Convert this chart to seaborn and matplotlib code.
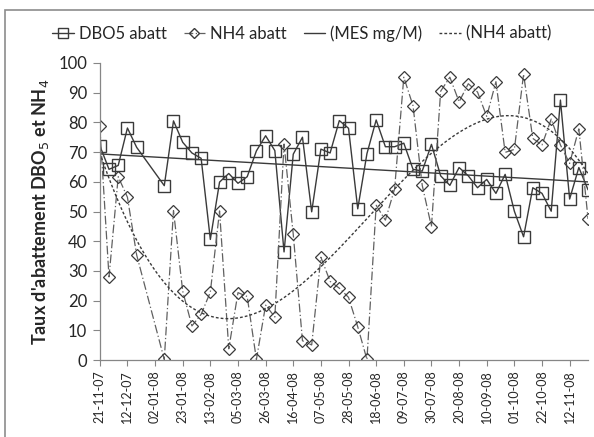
import numpy as np
import pandas as pd
import matplotlib
matplotlib.use('Agg')
import matplotlib.pyplot as plt
import seaborn as sns
from matplotlib.lines import Line2D
from matplotlib.patches import Rectangle

# sampling dates (weekly, gap over the holidays)
dates = ['21-11-07', '28-11-07', '05-12-07', '12-12-07', '19-12-07',
         '09-01-08', '16-01-08', '23-01-08', '30-01-08', '06-02-08',
         '13-02-08', '20-02-08', '27-02-08', '05-03-08', '12-03-08',
         '19-03-08', '26-03-08', '02-04-08', '09-04-08', '16-04-08',
         '23-04-08', '30-04-08', '07-05-08', '14-05-08', '21-05-08',
         '28-05-08', '04-06-08', '11-06-08', '18-06-08', '25-06-08',
         '02-07-08', '09-07-08', '16-07-08', '23-07-08', '30-07-08',
         '06-08-08', '13-08-08', '20-08-08', '27-08-08', '03-09-08',
         '10-09-08', '17-09-08', '24-09-08', '01-10-08', '08-10-08',
         '15-10-08', '22-10-08', '29-10-08', '05-11-08', '12-11-08',
         '19-11-08', '26-11-08']

dbo5 = [72.2, 64.2, 65.5, 78.1, 71.6, 58.7, 80.5, 73.3, 69.7, 67.9,
        40.6, 59.9, 62.8, 59.5, 61.7, 70.4, 75.5, 70.5, 36.4, 69.3,
        75.0, 49.9, 71.0, 69.7, 80.6, 78.0, 50.9, 69.5, 80.8, 71.8,
        71.8, 73.0, 64.2, 63.6, 72.6, 62.0, 58.8, 64.8, 62.0, 58.0,
        60.8, 56.1, 62.5, 50.1, 41.5, 58.0, 56.1, 50.1, 87.5, 54.2,
        64.8, 57.3]

nh4 = [78.8, 28.0, 61.7, 54.8, 35.4, 0.2, 50.3, 23.2, 11.5, 15.4,
       22.9, 50.2, 3.8, 22.7, 21.4, 0.2, 18.5, 14.5, 72.7, 42.3,
       6.5, 5.1, 34.6, 26.5, 24.2, 21.1, 11.2, 0.2, 52.1, 47.1,
       57.6, 95.2, 85.6, 58.8, 44.9, 90.5, 95.2, 86.9, 93.0, 90.2,
       82.0, 93.7, 69.9, 70.9, 96.2, 74.6, 72.4, 81.1, 72.4, 66.2,
       77.8, 47.5]

tick_labels = ['21-11-07', '12-12-07', '02-01-08', '23-01-08', '13-02-08',
               '05-03-08', '26-03-08', '16-04-08', '07-05-08', '28-05-08',
               '18-06-08', '09-07-08', '30-07-08', '20-08-08', '10-09-08',
               '01-10-08', '22-10-08', '12-11-08']

df = pd.DataFrame({'date': pd.to_datetime(dates, format='%d-%m-%y'),
                   'dbo5': dbo5, 'nh4': nh4})

# Excel-like trend lines: linear on DBO5, 3rd order polynomial on NH4
days = (df['date'] - df['date'].iloc[0]).dt.days.to_numpy()
grid = pd.date_range(df['date'].iloc[0], df['date'].iloc[-1], freq='D')
gdays = (grid - grid[0]).days.to_numpy()
trend = pd.DataFrame({
    'date': grid,
    'lin': np.polyval(np.polyfit(days, df['dbo5'], 1), gdays),
    'poly': np.polyval(np.polyfit(days, df['nh4'], 3), gdays),
})

sns.set_theme(style='white')
plt.rcParams['font.family'] = ['Lato', 'DejaVu Sans']

fig, ax = plt.subplots(figsize=(5.94, 4.37), dpi=100)
fig.subplots_adjust(left=0.168, right=0.99, top=0.856, bottom=0.176)

dark = '#3a3a3a'
dashdot = (0, (7, 2, 1, 2))
dotted = (0, (2, 1.5))

sns.lineplot(data=df, x='date', y='dbo5', ax=ax, color=dark, lw=1.0,
             marker='s', markersize=8.5, markerfacecolor='none',
             markeredgecolor=dark, markeredgewidth=1.0)
sns.lineplot(data=df, x='date', y='nh4', ax=ax, color='#606060', lw=0.9,
             linestyle=dashdot,
             marker='D', markersize=6.5, markerfacecolor='none',
             markeredgecolor=dark, markeredgewidth=0.9)
sns.lineplot(data=trend, x='date', y='lin', ax=ax, color=dark, lw=1.0)
sns.lineplot(data=trend, x='date', y='poly', ax=ax, color=dark, lw=1.0,
             linestyle=dotted)

ax.set_ylim(0, 100)
ax.set_yticks(range(0, 101, 10))
ax.set_xlim(df['date'].iloc[0], df['date'].iloc[-1])
ax.set_xticks(pd.to_datetime(tick_labels, format='%d-%m-%y'))
ax.set_xticklabels(tick_labels, rotation=90, fontsize=9)
ax.tick_params(axis='y', labelsize=12, length=5, width=0.8, color='#868686',
               direction='out', left=True, pad=4)
ax.tick_params(axis='x', length=4, width=0.8, color='#868686',
               direction='out', bottom=True, pad=3)
ax.set_xlabel('')
ax.set_ylabel("Taux d'abattement DBO$_5$ et NH$_4$", fontsize=13,
              fontweight='bold', labelpad=5)

for side in ['top', 'right']:
    ax.spines[side].set_visible(False)
for side in ['left', 'bottom']:
    ax.spines[side].set_color('#868686')
    ax.spines[side].set_linewidth(0.9)

handles = [
    Line2D([], [], color=dark, lw=1.0, marker='s', markersize=7,
           markerfacecolor='none', markeredgecolor=dark),
    Line2D([], [], color='#606060', lw=0.9, linestyle=dashdot,
           marker='D', markersize=5.5, markerfacecolor='none',
           markeredgecolor=dark),
    Line2D([], [], color=dark, lw=1.0),
    Line2D([], [], color=dark, lw=1.0, linestyle=dotted),
]
labels = ['DBO5 abatt', 'NH4 abatt', '(MES mg/M)', '(NH4 abatt)']
fig.legend(handles, labels, loc='center', bbox_to_anchor=(0.508, 0.923),
           ncol=4, frameon=False, fontsize=12, handlelength=1.3,
           handletextpad=0.3, columnspacing=1.0)

# chart area border
fig.patches.append(Rectangle((5 / 594, -0.1), 1.2, 1.1 - 10 / 437,
                             transform=fig.transFigure, fill=False,
                             edgecolor='#8c8c8c', lw=1.2))

plt.savefig('out.png', dpi=100)
plt.close()
